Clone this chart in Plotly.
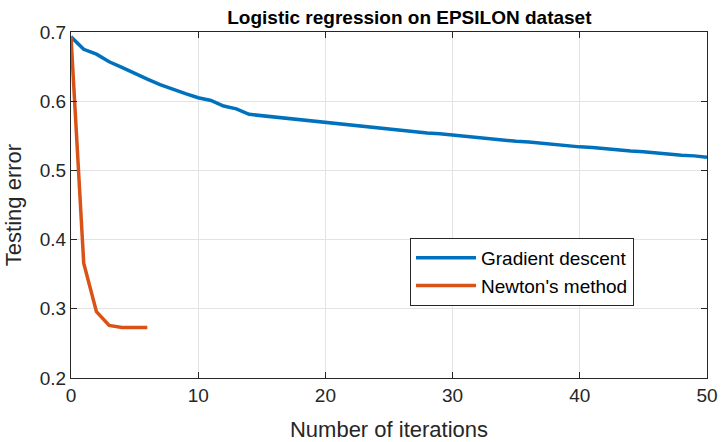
import plotly.graph_objects as go

iters_gd = list(range(0, 51))
gd_error = [0.693, 0.675, 0.668, 0.657, 0.649, 0.640, 0.632, 0.624, 0.617, 0.611,
            0.605, 0.601, 0.593, 0.589, 0.581, 0.579, 0.577, 0.575, 0.573, 0.571,
            0.569, 0.567, 0.565, 0.563, 0.561, 0.560, 0.558, 0.556, 0.554, 0.553,
            0.551, 0.549, 0.547, 0.546, 0.544, 0.542, 0.541, 0.539, 0.537, 0.536,
            0.534, 0.533, 0.531, 0.530, 0.528, 0.527, 0.525, 0.524, 0.522, 0.521,
            0.519]
iters_newton = [0, 1, 2, 3, 4, 5, 6]
newton_error = [0.693, 0.366, 0.296, 0.276, 0.273, 0.273, 0.273]

x_ticks = [0, 10, 20, 30, 40, 50]
y_ticks = [0.2, 0.3, 0.4, 0.5, 0.6, 0.7]

FONT = "Liberation Sans, Arial, sans-serif"
AX = "#262626"

fig = go.Figure()
fig.add_trace(go.Scatter(x=iters_gd, y=gd_error, mode="lines", name="Gradient descent",
                         line=dict(color="#0072BD", width=3.5)))
fig.add_trace(go.Scatter(x=iters_newton, y=newton_error, mode="lines", name="Newton's method",
                         line=dict(color="#D95319", width=3.5)))

axis_common = dict(showline=True, linecolor=AX, linewidth=1, mirror="ticks",
                   ticks="inside", ticklen=6, tickcolor=AX, showgrid=True,
                   gridcolor="#e3e3e3", gridwidth=1, zeroline=False, automargin=False,
                   tickfont=dict(family=FONT, size=19, color=AX))

fig.update_xaxes(range=[0, 50], tickvals=x_ticks, ticktext=[str(v) for v in x_ticks],
                 title=dict(text="Number of iterations", font=dict(family=FONT, size=22, color=AX), standoff=16),
                 **axis_common)
fig.update_yaxes(range=[0.2, 0.7], tickvals=y_ticks, ticktext=[f"{v:.1f}" for v in y_ticks],
                 title=dict(text="Testing error", font=dict(family=FONT, size=22, color=AX), standoff=12),
                 **axis_common)

fig.update_layout(
    width=722, height=442,
    margin=dict(l=71, r=15, t=32, b=64),
    paper_bgcolor="white", plot_bgcolor="white",
    title=dict(text="<b>Logistic regression on EPSILON dataset</b>", x=0.567, xanchor="center",
               y=0.975, yanchor="top", font=dict(family=FONT, size=19, color="black")),
    legend=dict(x=0.533, y=0.405, xanchor="left", yanchor="top", bordercolor=AX, borderwidth=1,
                bgcolor="white", font=dict(family=FONT, size=19, color="black"),
                itemwidth=60, tracegroupgap=0),
    showlegend=True,
)

fig.write_html("out.html")
